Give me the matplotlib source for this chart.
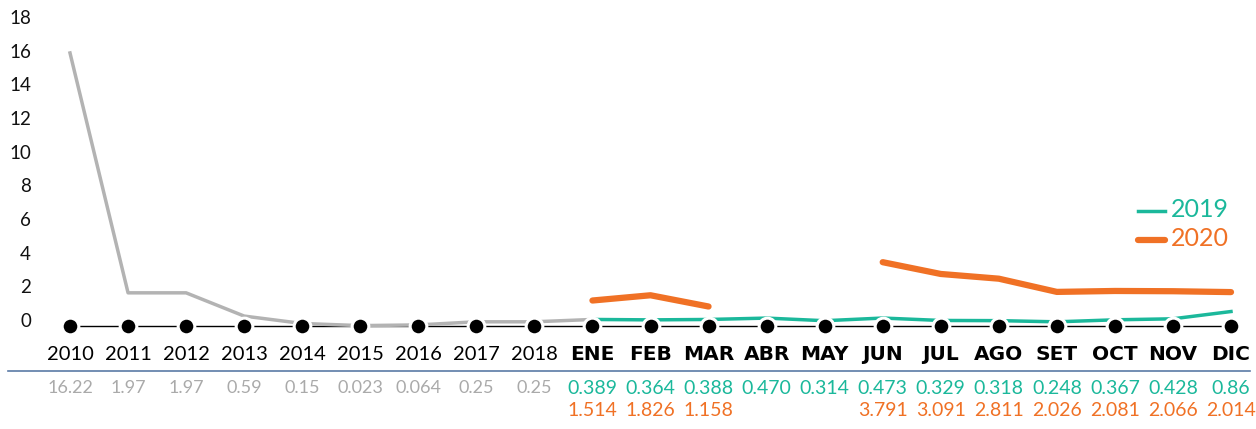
import numpy as np
import matplotlib
matplotlib.use('Agg')
import matplotlib.pyplot as plt
from matplotlib.transforms import blended_transform_factory, ScaledTranslation

## Input data
years = ['2010', '2011', '2012', '2013', '2014', '2015', '2016', '2017', '2018']
months = ['ENE', 'FEB', 'MAR', 'ABR', 'MAY', 'JUN', 'JUL', 'AGO', 'SET', 'OCT', 'NOV', 'DIC']
hist_vals = [16.22, 1.97, 1.97, 0.59, 0.15, 0.023, 0.064, 0.25, 0.25]
hist_labels = ['16.22', '1.97', '1.97', '0.59', '0.15', '0.023', '0.064', '0.25', '0.25']
vals_2019 = [0.389, 0.364, 0.388, 0.470, 0.314, 0.473, 0.329, 0.318, 0.248, 0.367, 0.428, 0.86]
labels_2019 = ['0.389', '0.364', '0.388', '0.470', '0.314', '0.473', '0.329', '0.318',
               '0.248', '0.367', '0.428', '0.86']
vals_2020 = [1.514, 1.826, 1.158, None, None, 3.791, 3.091, 2.811, 2.026, 2.081, 2.066, 2.014]
labels_2020 = ['1.514', '1.826', '1.158', '', '', '3.791', '3.091', '2.811',
               '2.026', '2.081', '2.066', '2.014']
yticks = list(range(0, 19, 2))

gray = '#b3b3b3'
teal = '#1bb89b'
orange = '#f07125'
blue = '#5a7aa6'
fnt = 'Lato'

## Figure
W, H = 1256, 429
cats = years + months
ncat = len(cats)
fig = plt.figure(figsize=(W / 100, H / 100), dpi=100)
ax = fig.add_axes([70 / W, (H - 326) / H, (1231 - 70) / W, (326 - 23) / H])
ax.set_xlim(0, ncat - 1)
ax.set_ylim(0, 18)
for s in ax.spines.values():
    s.set_visible(False)
ax.set_xticks([])
ax.set_yticks(yticks)
ax.tick_params(axis='y', length=0, pad=39 * 72 / 100)
for lab in ax.get_yticklabels():
    lab.set_fontfamily(fnt)
    lab.set_fontsize(13.5)
    lab.set_color('#111111')
    lab.set_transform(lab.get_transform() + ScaledTranslation(0, 0.06, fig.dpi_scale_trans))

nh = len(years)
xh = np.arange(nh + 1)
xm = np.arange(nh, nh + len(months))

# lines
ax.plot(xh, hist_vals + [vals_2019[0]], color=gray, lw=2.5, clip_on=False, zorder=2)
ax.plot(xm, vals_2019, color=teal, lw=2.5, clip_on=False, zorder=2)
v20 = np.array([np.nan if v is None else v for v in vals_2020])
ax.plot(xm, v20, color=orange, lw=4.5, solid_capstyle='round', clip_on=False, zorder=3)
ax.plot(np.arange(ncat), np.zeros(ncat), color='black', lw=1, zorder=1, clip_on=False)
ax.plot(np.arange(ncat), np.zeros(ncat), 'o', color='black', ms=12,
        mec='white', mew=2.2, clip_on=False, zorder=5)

# category labels and value rows
tr = blended_transform_factory(ax.transData, fig.transFigure)
for i, c in enumerate(cats):
    if c in months:
        ax.text(i, 1 - 355 / H, c, transform=tr, ha='center', va='center',
                fontfamily='DejaVu Sans', fontsize=14.5, fontweight='bold', color='black')
    else:
        ax.text(i, 1 - 354 / H, c, transform=tr, ha='center', va='center', fontfamily=fnt,
                fontsize=14.5, color='black')
for i, t in enumerate(hist_labels):
    ax.text(i, 1 - 388 / H, t, transform=tr, ha='center', va='center', fontfamily=fnt,
            fontsize=13, color='#aaaaaa')
for j, t in enumerate(labels_2019):
    ax.text(nh + j, 1 - 388 / H, t, transform=tr, ha='center', va='center', fontfamily=fnt,
            fontsize=14, color=teal)
for j, t in enumerate(labels_2020):
    ax.text(nh + j, 1 - 411 / H, t, transform=tr, ha='center', va='center', fontfamily=fnt,
            fontsize=14, color=orange)

# separator
fig.add_artist(plt.Line2D([8 / W, 1250 / W], [1 - 371 / H, 1 - 371 / H], color=blue, lw=1.2))

# legend
fig.add_artist(plt.Line2D([1138 / W, 1165 / W], [1 - 211 / H] * 2, color=teal, lw=2.5))
fig.add_artist(plt.Line2D([1138 / W, 1165 / W], [1 - 240 / H] * 2, color=orange, lw=4.5,
                          solid_capstyle='round'))
fig.text(1171 / W, 1 - 209 / H, '2019', color=teal, fontfamily=fnt, fontsize=18, va='center')
fig.text(1171 / W, 1 - 238 / H, '2020', color=orange, fontfamily=fnt, fontsize=18, va='center')

fig.savefig('out.png', dpi=100)
